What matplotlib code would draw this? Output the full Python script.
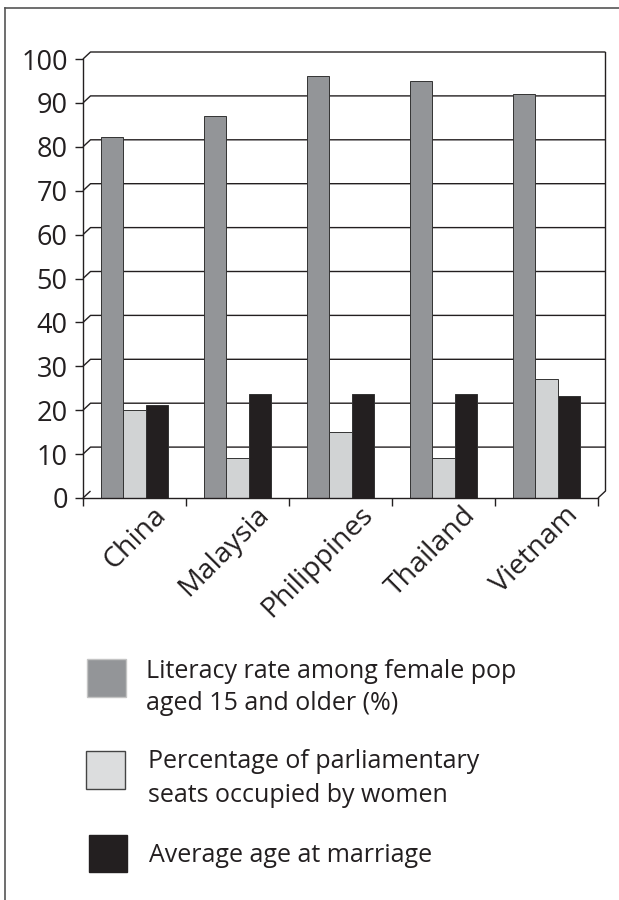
import matplotlib
matplotlib.use("Agg")
import matplotlib.pyplot as plt
import matplotlib.transforms as mtransforms
from matplotlib.patches import Rectangle
from matplotlib.lines import Line2D

# Data
countries = ["China", "Malaysia", "Philippines", "Thailand", "Vietnam"]
literacy = [82.2, 87.0, 96.2, 95.1, 92.0]
parliament = [20.0, 9.1, 15.0, 9.1, 27.1]
marriage_age = [21.1, 23.7, 23.6, 23.6, 23.2]
y_ticks = list(range(0, 101, 10))
series_labels = [
    ["Literacy rate among female pop", "aged 15 and older (%)"],
    ["Percentage of parliamentary", "seats occupied by women"],
    ["Average age at marriage"],
]

INK = "#231f20"
GRAY = "#939598"
LIGHT = "#d1d3d4"
DARK = "#231f20"

plt.rcParams["font.family"] = ["Open Sans", "DejaVu Sans"]

W, H, DPI = 619, 900, 100
fig = plt.figure(figsize=(W / DPI, H / DPI), dpi=DPI)


def fx(px):
    return px / W


def fy(py):
    return 1 - py / H


# front plane of the pseudo-3D chart
left, right, bottom, top = 83, 598, 498, 59
ax = fig.add_axes([fx(left), fy(bottom), fx(right) - fx(left), fy(top) - fy(bottom)])
n = len(countries)
ax.set_xlim(0, n)
ax.set_ylim(0, 100)
ax.patch.set_visible(False)

# depth offset of the back wall, expressed in data units
depth_px_x, depth_px_y = 7.5, 7.0
ddx = depth_px_x * n / (right - left)
ddy = depth_px_y * 100 / (bottom - top)

line_kw = dict(color=INK, lw=1.0, clip_on=False, zorder=1, solid_capstyle="butt")
for v in y_ticks:
    if v == 0:
        ax.plot([0, ddx], [0, ddy], **line_kw)
    else:
        ax.plot([0, ddx, n + ddx], [v, v + ddy, v + ddy], **line_kw)
ax.plot([n, n + ddx, n + ddx], [0, ddy, 100 + ddy], **line_kw)

# bars
bw = 0.22
for j, (vals, col) in enumerate([(literacy, GRAY), (parliament, LIGHT), (marriage_age, DARK)]):
    xs = [i + 0.5 + (j - 1) * bw for i in range(n)]
    ax.bar(xs, vals, width=bw, color=col, edgecolor="#333333", linewidth=0.7, zorder=3)

# axes lines and ticks
for s in ["top", "right"]:
    ax.spines[s].set_visible(False)
for s in ["left", "bottom"]:
    ax.spines[s].set_color(INK)
    ax.spines[s].set_linewidth(1.0)
    ax.spines[s].set_zorder(4)
ax.set_yticks(y_ticks)
ax.set_yticklabels([str(v) for v in y_ticks])
ax.set_xticks(range(n + 1))
ax.set_xticklabels([])
ax.tick_params(axis="y", direction="out", length=6, width=1.0, pad=5,
               labelsize=19.5, colors=INK)
ax.tick_params(axis="x", direction="out", length=6, width=1.0, colors=INK)
for lab in ax.get_yticklabels():
    lab.set_fontweight(500)

# rotated category labels
shift = mtransforms.ScaledTranslation(18 / DPI, -3 / DPI, fig.dpi_scale_trans)
for i, name in enumerate(countries):
    ax.text(i + 0.5, 0, name, transform=ax.transData + shift, rotation=45,
            rotation_mode="anchor", ha="right", va="top", fontsize=20.5,
            fontweight=500, color=INK)

# legend
swatches = [(87, 659, 126, 697, GRAY, "#c4c4c4"),
            (86, 751, 125, 789, "#dcddde", "#444444"),
            (89, 835, 127, 872, DARK, DARK)]
text_pos = [(146, [678, 710]), (148, [768, 802]), (149, [862])]
for (x0, y0, x1, y1, fc, ec), (tx, bases), lines in zip(swatches, text_pos, series_labels):
    fig.add_artist(Rectangle((fx(x0), fy(y1)), fx(x1) - fx(x0), fy(y0) - fy(y1),
                             transform=fig.transFigure, facecolor=fc,
                             edgecolor=ec, linewidth=1.0))
    for b, t in zip(bases, lines):
        fig.text(fx(tx), fy(b), t, ha="left", va="baseline", fontsize=18,
                 fontweight=500, color=INK)

# page frame
fig.add_artist(Line2D([fx(5), fx(5)], [fy(8), 0], transform=fig.transFigure,
                      color="#555555", lw=1.2))
fig.add_artist(Line2D([fx(5), 1], [fy(8), fy(8)], transform=fig.transFigure,
                      color="#555555", lw=1.2))

fig.savefig("out.png", dpi=DPI, facecolor="white")
